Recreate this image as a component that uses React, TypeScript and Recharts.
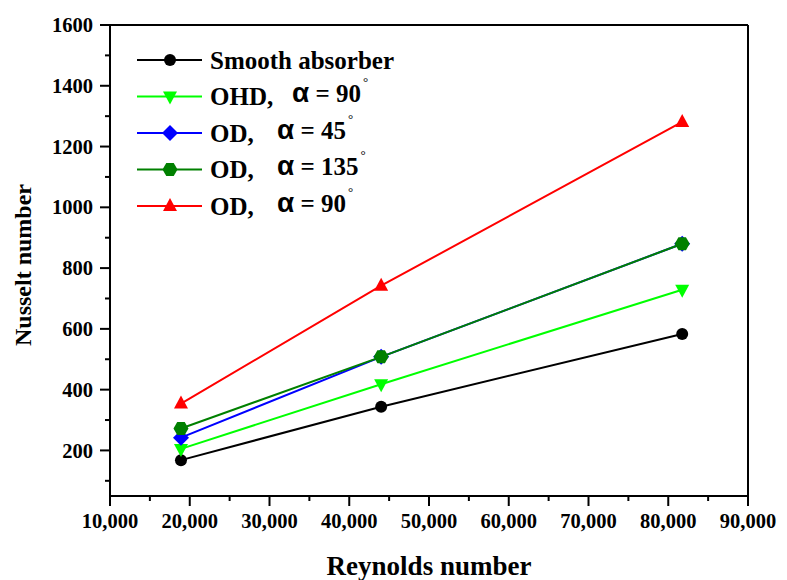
import React from 'react';
import { LineChart, Line, XAxis, YAxis, Legend, ReferenceLine } from 'recharts';

// Reynolds number at each test point
const reynolds = [18900, 44000, 81750];

// Nusselt number per absorber configuration
const smoothAbsorber = [168, 344, 583];
const ohd90 = [205, 418, 729];
const od45 = [242, 508, 880];
const od135 = [272, 508, 880];
const od90 = [354, 742, 1281];

const xTicks = [10000, 15000, 20000, 25000, 30000, 35000, 40000, 45000, 50000, 55000, 60000, 65000, 70000, 75000, 80000, 85000, 90000];
const yTicks = [100, 200, 300, 400, 500, 600, 700, 800, 900, 1000, 1100, 1200, 1300, 1400, 1500, 1600];

const data = reynolds.map((re, i) => ({
  re,
  smooth: smoothAbsorber[i],
  ohd90: ohd90[i],
  od45: od45[i],
  od135: od135[i],
  od90: od90[i],
}));

const SERIF = '"Liberation Serif", "Times New Roman", serif';
const SANS = '"Liberation Sans", Arial, sans-serif';

type Shape = 'circle' | 'down' | 'diamond' | 'hexagon' | 'up';

const Marker = ({ cx, cy, shape, color }: { cx: number; cy: number; shape: Shape; color: string }) => {
  const r = 7;
  if (shape === 'circle') return <circle cx={cx} cy={cy} r={6} fill={color} />;
  if (shape === 'down')
    return <polygon points={`${cx - r},${cy - 5} ${cx + r},${cy - 5} ${cx},${cy + 8}`} fill={color} />;
  if (shape === 'up')
    return <polygon points={`${cx - r},${cy + 5} ${cx + r},${cy + 5} ${cx},${cy - 8}`} fill={color} />;
  if (shape === 'diamond')
    return <polygon points={`${cx},${cy - 8} ${cx + 8},${cy} ${cx},${cy + 8} ${cx - 8},${cy}`} fill={color} />;
  const pts = [0, 1, 2, 3, 4, 5]
    .map((k) => {
      const a = (Math.PI / 3) * k;
      return `${cx + 7.5 * Math.cos(a)},${cy + 7.5 * Math.sin(a)}`;
    })
    .join(' ');
  return <polygon points={pts} fill={color} />;
};

const series = [
  { key: 'smooth', color: '#000000', shape: 'circle' as Shape },
  { key: 'ohd90', color: '#00FF00', shape: 'down' as Shape },
  { key: 'od45', color: '#0000FF', shape: 'diamond' as Shape },
  { key: 'od135', color: '#008000', shape: 'hexagon' as Shape },
  { key: 'od90', color: '#FF0000', shape: 'up' as Shape },
];

const TICK_SIZE = 10;
const TICK_MARGIN = 7;

const YTick = ({ x, y, payload }: any) => {
  const axisX = x + TICK_SIZE + TICK_MARGIN;
  const major = payload.value % 200 === 0;
  return (
    <g>
      <line x1={axisX} x2={axisX - (major ? 10 : 5)} y1={y} y2={y} stroke="#000" strokeWidth={2} />
      {major && (
        <text x={x} y={y} dy="0.35em" textAnchor="end" fontFamily={SERIF} fontWeight="bold" fontSize={20.5} fill="#000">
          {payload.value}
        </text>
      )}
    </g>
  );
};

const XTick = ({ x, y, payload }: any) => {
  const axisY = y - TICK_SIZE - TICK_MARGIN;
  const major = payload.value % 10000 === 0;
  return (
    <g>
      <line x1={x} x2={x} y1={axisY} y2={axisY + (major ? 10 : 5)} stroke="#000" strokeWidth={2} />
      {major && (
        <text x={x} y={y} dy="0.75em" textAnchor="middle" fontFamily={SERIF} fontWeight="bold" fontSize={20.5} fill="#000">
          {payload.value.toLocaleString('en-US')}
        </text>
      )}
    </g>
  );
};

const legendRows = [
  { label: 'Smooth absorber', color: '#000000', shape: 'circle' as Shape },
  { label: 'OHD,', alphaX: 164, angle: '90', color: '#00FF00', shape: 'down' as Shape },
  { label: 'OD,', alphaX: 149, angle: '45', color: '#0000FF', shape: 'diamond' as Shape },
  { label: 'OD,', alphaX: 149, angle: '135', color: '#008000', shape: 'hexagon' as Shape },
  { label: 'OD,', alphaX: 149, angle: '90', color: '#FF0000', shape: 'up' as Shape },
];

const renderLegend = () => (
  <svg width={300} height={200}>
    {legendRows.map((row, i) => {
      const cy = 17 + i * 36.5;
      return (
        <g key={row.label + i}>
          <line x1={9} x2={74} y1={cy} y2={cy} stroke={row.color} strokeWidth={2} />
          <Marker cx={42} cy={cy} shape={row.shape} color={row.color} />
          <text x={82} y={cy} dy="0.35em" fontFamily={SERIF} fontWeight="bold" fontSize={25} fill="#000">
            {row.label}
          </text>
          {row.alphaX && (
            <text x={row.alphaX} y={cy} dy="0.35em" fill="#000">
              <tspan fontFamily={SANS} fontWeight="bold" fontSize={28}>α</tspan>
              <tspan fontFamily={SERIF} fontWeight="bold" fontSize={25}> = {row.angle}</tspan>
              <tspan fontFamily={SERIF} fontSize={13} dy={-16} dx={2}>°</tspan>
            </text>
          )}
        </g>
      );
    })}
  </svg>
);

export default function App() {
  return (
    <div style={{ width: 779, height: 572, background: '#fff' }}>
      <LineChart width={779} height={572} data={data} margin={{ top: 17, right: 39, bottom: 0, left: 0 }}>
        <XAxis
          dataKey="re"
          type="number"
          domain={[10000, 90000]}
          ticks={xTicks}
          interval={0}
          height={84}
          tickSize={TICK_SIZE}
          tickMargin={TICK_MARGIN}
          tickLine={false}
          tick={<XTick />}
          axisLine={{ stroke: '#000', strokeWidth: 2 }}
          label={({ viewBox }: any) => (
            <text
              x={viewBox.x + viewBox.width / 2}
              y={viewBox.y + 79}
              textAnchor="middle"
              fontFamily={SERIF}
              fontWeight="bold"
              fontSize={27}
              fill="#000"
            >
              Reynolds number
            </text>
          )}
        />
        <YAxis
          type="number"
          domain={[50, 1600]}
          ticks={yTicks}
          interval={0}
          width={102}
          tickSize={TICK_SIZE}
          tickMargin={TICK_MARGIN}
          tickLine={false}
          tick={<YTick />}
          axisLine={{ stroke: '#000', strokeWidth: 2 }}
          label={() => (
            <text
              x={15}
              y={257}
              transform="rotate(-90 15 257)"
              textAnchor="middle"
              dy="0.35em"
              fontFamily={SERIF}
              fontWeight="bold"
              fontSize={24}
              fill="#000"
            >
              Nusselt number
            </text>
          )}
        />
        <ReferenceLine y={1600} stroke="#000" strokeWidth={2} />
        <ReferenceLine x={90000} stroke="#000" strokeWidth={2} />
        {series.map((s) => (
          <Line
            key={s.key}
            dataKey={s.key}
            stroke={s.color}
            strokeWidth={2}
            isAnimationActive={false}
            dot={(p: any) => <Marker key={`${s.key}-${p.index}`} cx={p.cx} cy={p.cy} shape={s.shape} color={s.color} />}
            activeDot={false}
          />
        ))}
        <Legend
          layout="vertical"
          align="center"
          verticalAlign="middle"
          content={renderLegend}
          wrapperStyle={{ left: 120, top: 35, width: 300 }}
        />
      </LineChart>
    </div>
  );
}
